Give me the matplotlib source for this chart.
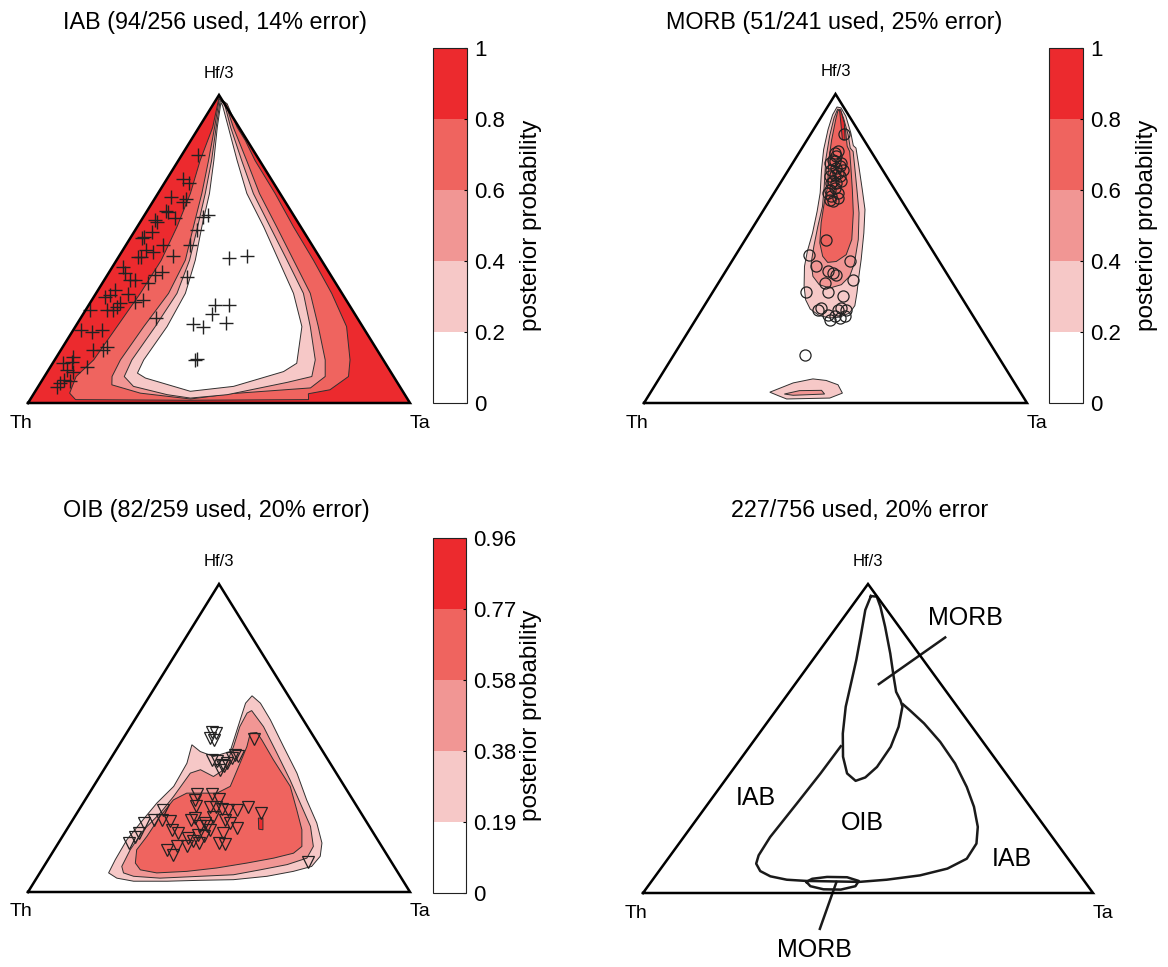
import numpy as np
import matplotlib
matplotlib.use("Agg")
import matplotlib.pyplot as plt
from matplotlib.colors import ListedColormap, BoundaryNorm
from matplotlib.cm import ScalarMappable

plt.rcParams['font.family'] = ['Liberation Sans', 'DejaVu Sans']

# ---- data: ternary compositions as (Hf/3 fraction, Ta fraction) ----

titles = ["IAB (94/256 used, 14% error)", "MORB (51/241 used, 25% error)",
          "OIB (82/259 used, 20% error)", "227/756 used, 20% error"]

iab_bounds = [0, 0.2, 0.4, 0.6, 0.8, 1]
iab_ticklabels = ["0", "0.2", "0.4", "0.6", "0.8", "1"]
morb_bounds = [0, 0.2, 0.4, 0.6, 0.8, 1]
morb_ticklabels = ["0", "0.2", "0.4", "0.6", "0.8", "1"]
oib_bounds = [0, 0.19, 0.38, 0.58, 0.77, 0.96]
oib_ticklabels = ["0", "0.19", "0.38", "0.58", "0.77", "0.96"]

band_colors = ['#FFFFFF', '#F6C8C7', '#F19694', '#EF645F', '#EC2A2E']

# IAB: regions where probability is BELOW each level (nested holes)
iab_lt08 = [(0.992, 0.004), (0.895, 0.036), (0.787, 0.057), (0.680, 0.085), (0.572, 0.104),
            (0.464, 0.117), (0.356, 0.116), (0.248, 0.109), (0.140, 0.102), (0.086, 0.083),
            (0.032, 0.093), (0.011, 0.119), (0.009, 0.412), (0.011, 0.729), (0.030, 0.719),
            (0.043, 0.769), (0.086, 0.796), (0.140, 0.773), (0.248, 0.710), (0.356, 0.617),
            (0.464, 0.515), (0.572, 0.409), (0.680, 0.307), (0.787, 0.201), (0.852, 0.143),
            (0.895, 0.100), (0.971, 0.036)]
iab_lt06 = [(0.987, 0.007), (0.895, 0.041), (0.787, 0.079), (0.680, 0.115), (0.572, 0.147),
            (0.464, 0.180), (0.356, 0.190), (0.248, 0.179), (0.140, 0.172), (0.086, 0.177),
            (0.059, 0.190), (0.032, 0.278), (0.013, 0.419), (0.030, 0.514), (0.049, 0.715),
            (0.086, 0.735), (0.140, 0.708), (0.248, 0.636), (0.356, 0.561), (0.464, 0.463),
            (0.572, 0.365), (0.680, 0.266), (0.787, 0.179), (0.895, 0.090), (0.971, 0.032)]
iab_lt04 = [(0.982, 0.012), (0.895, 0.045), (0.787, 0.087), (0.680, 0.124), (0.572, 0.158),
            (0.464, 0.191), (0.356, 0.212), (0.248, 0.209), (0.140, 0.202), (0.086, 0.209),
            (0.054, 0.249), (0.027, 0.351), (0.016, 0.417), (0.027, 0.508), (0.067, 0.645),
            (0.086, 0.700), (0.140, 0.682), (0.248, 0.615), (0.356, 0.543), (0.464, 0.446),
            (0.572, 0.348), (0.680, 0.250), (0.787, 0.166), (0.895, 0.083), (0.971, 0.029)]
iab_lt02 = [(0.976, 0.017), (0.895, 0.048), (0.787, 0.093), (0.680, 0.135), (0.572, 0.169),
            (0.464, 0.206), (0.356, 0.234), (0.248, 0.240), (0.140, 0.233), (0.097, 0.238),
            (0.081, 0.267), (0.038, 0.406), (0.054, 0.511), (0.102, 0.618), (0.129, 0.639),
            (0.248, 0.593), (0.356, 0.517), (0.464, 0.424), (0.572, 0.331), (0.680, 0.233),
            (0.787, 0.154), (0.895, 0.077), (0.965, 0.027)]

iab_samples = [(0.805, 0.043), (0.727, 0.042), (0.714, 0.064), (0.669, 0.040), (0.653, 0.079),
               (0.662, 0.083), (0.623, 0.050), (0.620, 0.056), (0.601, 0.084), (0.594, 0.035),
               (0.588, 0.044), (0.555, 0.047), (0.539, 0.034), (0.536, 0.030), (0.513, 0.097),
               (0.490, 0.082), (0.497, 0.060), (0.474, 0.059), (0.474, 0.051), (0.477, 0.141),
               (0.442, 0.028), (0.422, 0.043), (0.399, 0.067), (0.399, 0.080), (0.390, 0.119),
               (0.416, 0.124), (0.425, 0.138), (0.367, 0.045), (0.351, 0.040), (0.344, 0.030),
               (0.325, 0.079), (0.302, 0.072), (0.302, 0.056), (0.312, 0.077), (0.354, 0.085),
               (0.334, 0.134), (0.328, 0.116), (0.302, 0.011), (0.237, 0.020), (0.231, 0.053),
               (0.237, 0.075), (0.182, 0.116), (0.172, 0.110), (0.172, 0.084), (0.117, 0.096),
               (0.133, 0.048), (0.130, 0.027), (0.107, 0.048), (0.101, 0.068), (0.075, 0.057),
               (0.065, 0.052), (0.052, 0.050), (0.071, 0.074), (0.610, 0.166), (0.604, 0.156),
               (0.562, 0.161), (0.513, 0.167), (0.409, 0.211), (0.276, 0.197), (0.471, 0.291),
               (0.477, 0.334), (0.318, 0.331), (0.318, 0.367), (0.289, 0.338), (0.260, 0.388),
               (0.256, 0.304), (0.247, 0.335), (0.140, 0.367), (0.143, 0.371), (0.150, 0.043)]

# MORB: regions where probability is ABOVE each level
morb_ge02 = [(0.958, 0.025), (0.933, 0.026), (0.885, 0.038), (0.820, 0.059), (0.755, 0.086),
             (0.680, 0.120), (0.620, 0.142), (0.550, 0.165), (0.491, 0.181), (0.442, 0.198),
             (0.378, 0.229), (0.334, 0.255), (0.304, 0.282), (0.283, 0.316), (0.275, 0.347),
             (0.278, 0.372), (0.291, 0.391), (0.315, 0.393), (0.356, 0.378), (0.410, 0.356),
             (0.464, 0.335), (0.550, 0.299), (0.626, 0.264), (0.690, 0.225), (0.766, 0.178),
             (0.825, 0.141), (0.833, 0.130), (0.874, 0.103), (0.928, 0.063), (0.955, 0.037)]
morb_ge04 = [(0.951, 0.030), (0.922, 0.035), (0.863, 0.053), (0.787, 0.081), (0.701, 0.120),
             (0.636, 0.148), (0.572, 0.168), (0.507, 0.190), (0.453, 0.210), (0.410, 0.236),
             (0.383, 0.266), (0.372, 0.299), (0.383, 0.324), (0.410, 0.332), (0.453, 0.323),
             (0.529, 0.295), (0.615, 0.254), (0.690, 0.211), (0.766, 0.167), (0.814, 0.139),
             (0.825, 0.126), (0.868, 0.099), (0.922, 0.060), (0.949, 0.038)]
morb_ge06 = [(0.947, 0.033), (0.917, 0.042), (0.852, 0.064), (0.787, 0.089), (0.701, 0.129),
             (0.647, 0.147), (0.583, 0.171), (0.518, 0.200), (0.475, 0.229), (0.455, 0.252),
             (0.458, 0.273), (0.480, 0.288), (0.529, 0.278), (0.615, 0.239), (0.690, 0.199),
             (0.766, 0.157), (0.814, 0.130), (0.831, 0.115), (0.879, 0.087), (0.926, 0.055),
             (0.947, 0.037)]
morb_ge08 = [(0.949, 0.036), (0.949, 0.039), (0.906, 0.070), (0.852, 0.099), (0.852, 0.092),
             (0.906, 0.061)]
morb_low_ge02 = [(0.035, 0.311), (0.065, 0.357), (0.078, 0.402), (0.073, 0.439), (0.059, 0.477),
                 (0.032, 0.502), (0.016, 0.477), (0.013, 0.366), (0.022, 0.343)]
morb_low_ge04 = [(0.029, 0.352), (0.040, 0.386), (0.041, 0.443), (0.029, 0.457), (0.025, 0.377)]

morb_samples = [(0.872, 0.085), (0.814, 0.100), (0.809, 0.093), (0.777, 0.097), (0.782, 0.107),
                (0.777, 0.127), (0.755, 0.111), (0.761, 0.122), (0.755, 0.142), (0.734, 0.118),
                (0.739, 0.129), (0.734, 0.144), (0.712, 0.133), (0.712, 0.146), (0.717, 0.156),
                (0.690, 0.140), (0.696, 0.150), (0.669, 0.155), (0.680, 0.167), (0.658, 0.156),
                (0.529, 0.212), (0.480, 0.191), (0.442, 0.229), (0.426, 0.267), (0.421, 0.283),
                (0.415, 0.294), (0.458, 0.308), (0.388, 0.278), (0.397, 0.348), (0.358, 0.243),
                (0.358, 0.301), (0.345, 0.348), (0.302, 0.303), (0.286, 0.337), (0.302, 0.356),
                (0.300, 0.378), (0.275, 0.373), (0.270, 0.350), (0.307, 0.361), (0.154, 0.344),
                (0.787, 0.099), (0.744, 0.135), (0.717, 0.134), (0.680, 0.140), (0.766, 0.128),
                (0.798, 0.103), (0.663, 0.175), (0.653, 0.166), (0.307, 0.309), (0.280, 0.358),
                (0.280, 0.384)]

# OIB: regions where probability is ABOVE each level
oib_ge019 = [(0.062, 0.180), (0.105, 0.176), (0.170, 0.174), (0.224, 0.182), (0.289, 0.193),
             (0.343, 0.210), (0.418, 0.207), (0.478, 0.190), (0.456, 0.223), (0.440, 0.266),
             (0.456, 0.301), (0.559, 0.276), (0.613, 0.263), (0.637, 0.268), (0.613, 0.302),
             (0.559, 0.355), (0.472, 0.433), (0.386, 0.511), (0.299, 0.580), (0.224, 0.644),
             (0.159, 0.690), (0.116, 0.707), (0.083, 0.701), (0.067, 0.661), (0.051, 0.600),
             (0.040, 0.518), (0.038, 0.432), (0.035, 0.347), (0.035, 0.259), (0.045, 0.210)]
oib_ge038 = [(0.083, 0.204), (0.137, 0.199), (0.202, 0.202), (0.256, 0.218), (0.310, 0.226),
             (0.386, 0.232), (0.397, 0.253), (0.375, 0.298), (0.397, 0.314), (0.472, 0.302),
             (0.537, 0.286), (0.581, 0.283), (0.589, 0.291), (0.537, 0.348), (0.451, 0.426),
             (0.364, 0.504), (0.289, 0.568), (0.213, 0.633), (0.148, 0.673), (0.110, 0.675),
             (0.089, 0.634), (0.072, 0.572), (0.056, 0.510), (0.051, 0.425), (0.045, 0.323),
             (0.051, 0.251), (0.062, 0.219)]
oib_ge058 = [(0.094, 0.234), (0.137, 0.216), (0.181, 0.221), (0.245, 0.223), (0.299, 0.231),
             (0.321, 0.255), (0.321, 0.290), (0.321, 0.334), (0.343, 0.358), (0.418, 0.346),
             (0.472, 0.337), (0.516, 0.324), (0.518, 0.340), (0.494, 0.365), (0.429, 0.428),
             (0.343, 0.515), (0.267, 0.570), (0.202, 0.616), (0.148, 0.643), (0.126, 0.632),
             (0.110, 0.588), (0.094, 0.526), (0.078, 0.455), (0.067, 0.382), (0.062, 0.306),
             (0.072, 0.258)]
oib_ge077 = [(0.240, 0.483), (0.240, 0.495), (0.202, 0.514), (0.204, 0.502)]

oib_samples = [(0.518, 0.222), (0.516, 0.235), (0.499, 0.227), (0.492, 0.240), (0.442, 0.330),
               (0.445, 0.319), (0.435, 0.317), (0.418, 0.312), (0.413, 0.301), (0.424, 0.282),
               (0.429, 0.266), (0.397, 0.305), (0.408, 0.308), (0.496, 0.344), (0.319, 0.284),
               (0.319, 0.321), (0.302, 0.350), (0.299, 0.288), (0.280, 0.300), (0.276, 0.339),
               (0.276, 0.355), (0.269, 0.373), (0.267, 0.391), (0.265, 0.415), (0.275, 0.438),
               (0.256, 0.482), (0.267, 0.221), (0.235, 0.212), (0.224, 0.191), (0.191, 0.194),
               (0.178, 0.192), (0.235, 0.234), (0.229, 0.257), (0.202, 0.276), (0.191, 0.298),
               (0.235, 0.308), (0.240, 0.318), (0.213, 0.345), (0.224, 0.352), (0.202, 0.376),
               (0.181, 0.370), (0.186, 0.353), (0.235, 0.399), (0.224, 0.417), (0.208, 0.443),
               (0.191, 0.416), (0.175, 0.332), (0.164, 0.351), (0.148, 0.316), (0.159, 0.420),
               (0.157, 0.438), (0.159, 0.184), (0.121, 0.320), (0.148, 0.342), (0.159, 0.367),
               (0.099, 0.684), (0.137, 0.295), (0.245, 0.363), (0.213, 0.362)]

# combined decision boundaries
morb_upper_boundary = [(0.961, 0.026), (0.916, 0.036), (0.829, 0.069), (0.754, 0.097), (0.667, 0.127),
                       (0.603, 0.149), (0.516, 0.186), (0.441, 0.224), (0.387, 0.260), (0.363, 0.291),
                       (0.374, 0.307), (0.408, 0.316), (0.473, 0.314), (0.538, 0.299), (0.603, 0.275),
                       (0.624, 0.260), (0.651, 0.237), (0.700, 0.207), (0.775, 0.162), (0.862, 0.107),
                       (0.927, 0.064), (0.959, 0.040), (0.961, 0.026)]
oib_boundary = [(0.475, 0.202), (0.387, 0.201), (0.289, 0.197), (0.181, 0.192), (0.122, 0.196),
                (0.095, 0.204), (0.071, 0.225), (0.054, 0.256), (0.043, 0.298), (0.039, 0.344),
                (0.036, 0.463), (0.043, 0.520), (0.057, 0.587), (0.079, 0.637), (0.111, 0.664),
                (0.160, 0.661), (0.214, 0.637), (0.279, 0.596), (0.343, 0.548), (0.419, 0.484),
                (0.489, 0.416), (0.549, 0.350), (0.590, 0.299), (0.611, 0.272)]
morb_lower_boundary = [(0.036, 0.345), (0.046, 0.353), (0.052, 0.383), (0.051, 0.428), (0.039, 0.460),
                       (0.022, 0.461), (0.011, 0.434), (0.012, 0.395), (0.022, 0.361), (0.036, 0.345)]
leader_upper = [(0.676, 0.186), (0.827, 0.258)]
leader_lower = [(0.036, 0.412), (-0.116, 0.451)]
region_names = ["MORB", "IAB", "OIB", "IAB", "MORB"]
region_label_pos = [(0.889, 0.272), (0.308, 0.096), (0.227, 0.375), (0.111, 0.764), (-0.186, 0.474)]

# ---- helpers ----
H = np.sqrt(3) / 2
FIG_W, FIG_H = 1168, 967


def tern(points):
    p = np.asarray(points, dtype=float)
    hf, ta = p[:, 0], p[:, 1]
    return ta + hf / 2, hf * H


def rect(left, top, right, bottom):
    return [left / FIG_W, 1 - bottom / FIG_H, (right - left) / FIG_W, (bottom - top) / FIG_H]


def ternary_axes(fig, r):
    ax = fig.add_axes(r)
    ax.set_xlim(0, 1)
    ax.set_ylim(0, H)
    ax.axis('off')
    return ax


def frame(ax):
    ax.plot([0, 1, 0.5, 0], [0, 0, H, 0], color='k', lw=1.8, zorder=6,
            solid_joinstyle='miter', clip_on=False)
    ax.annotate('Hf/3', xy=(0.5, H), xytext=(0, 22), textcoords='offset pixels',
                ha='center', va='center', fontsize=12)
    ax.annotate('Th', xy=(0, 0), xytext=(-7, -20), textcoords='offset pixels',
                ha='center', va='center', fontsize=14)
    ax.annotate('Ta', xy=(1, 0), xytext=(10, -20), textcoords='offset pixels',
                ha='center', va='center', fontsize=14)


def region(ax, pts, color):
    x, y = tern(pts)
    ax.fill(x, y, facecolor=color, edgecolor='#303030', lw=0.7, zorder=2)


def colorbar(fig, left, top, right, bottom, bounds, labels):
    cax = fig.add_axes(rect(left, top, right, bottom))
    sm = ScalarMappable(norm=BoundaryNorm(bounds, 5), cmap=ListedColormap(band_colors))
    cb = fig.colorbar(sm, cax=cax, ticks=bounds)
    cb.set_ticklabels(labels)
    cb.outline.set_linewidth(0.8)
    cb.outline.set_edgecolor('#222222')
    cax.tick_params(direction='in', length=2.5, width=0.8, labelsize=16, pad=5)
    # label centred about 98 px right of the bar's left edge
    cax.text(98 / (right - left), 0.5, 'posterior probability', transform=cax.transAxes,
             rotation=90, ha='center', va='center', fontsize=17.5)


fig = plt.figure(figsize=(FIG_W / 100, FIG_H / 100), dpi=100)

# ---- IAB ----
ax = ternary_axes(fig, rect(28, 95, 410, 403))
ax.fill([0, 1, 0.5], [0, 0, H], color=band_colors[4], lw=0, zorder=1)
for pts, c in zip([iab_lt08, iab_lt06, iab_lt04, iab_lt02], band_colors[3::-1]):
    region(ax, pts, c)
x, y = tern(iab_samples)
ax.plot(x, y, '+', color='#222222', ms=10, mew=1.0, zorder=4)
frame(ax)
colorbar(fig, 433, 48, 467, 403, iab_bounds, iab_ticklabels)
fig.text(215 / FIG_W, 1 - 22 / FIG_H, titles[0], ha='center', va='center', fontsize=16.8)

# ---- MORB ----
ax = ternary_axes(fig, rect(644, 94, 1027, 403))
for pts, c in zip([morb_ge02, morb_ge04, morb_ge06, morb_ge08], band_colors[1:]):
    region(ax, pts, c)
region(ax, morb_low_ge02, band_colors[1])
region(ax, morb_low_ge04, band_colors[2])
x, y = tern(morb_samples)
ax.plot(x, y, 'o', mfc='none', mec='#222222', ms=8, mew=0.9, zorder=4)
frame(ax)
colorbar(fig, 1049, 48, 1083, 403, morb_bounds, morb_ticklabels)
fig.text(834 / FIG_W, 1 - 22 / FIG_H, titles[1], ha='center', va='center', fontsize=16.8)

# ---- OIB ----
ax = ternary_axes(fig, rect(28, 584, 410, 892))
for pts, c in zip([oib_ge019, oib_ge038, oib_ge058, oib_ge077], band_colors[1:]):
    region(ax, pts, c)
x, y = tern(oib_samples)
ax.plot(x, y, 'v', mfc='none', mec='#222222', ms=8, mew=0.9, zorder=4)
frame(ax)
colorbar(fig, 433, 538, 466, 893, oib_bounds, oib_ticklabels)
fig.text(216 / FIG_W, 1 - 511 / FIG_H, titles[2], ha='center', va='center', fontsize=16.8)

# ---- combined decision boundaries ----
ax = ternary_axes(fig, rect(643, 584, 1093, 893))
for pts in [morb_upper_boundary, oib_boundary, morb_lower_boundary, leader_upper, leader_lower]:
    x, y = tern(pts)
    ax.plot(x, y, color='#1a1a1a', lw=1.8, clip_on=False, zorder=3)
for name, pos in zip(region_names, region_label_pos):
    x, y = tern([pos])
    ax.text(x[0], y[0], name, ha='center', va='center', fontsize=18, clip_on=False)
frame(ax)
fig.text(860 / FIG_W, 1 - 511 / FIG_H, titles[3], ha='center', va='center', fontsize=16.8)

fig.savefig('out.png', dpi=100)
